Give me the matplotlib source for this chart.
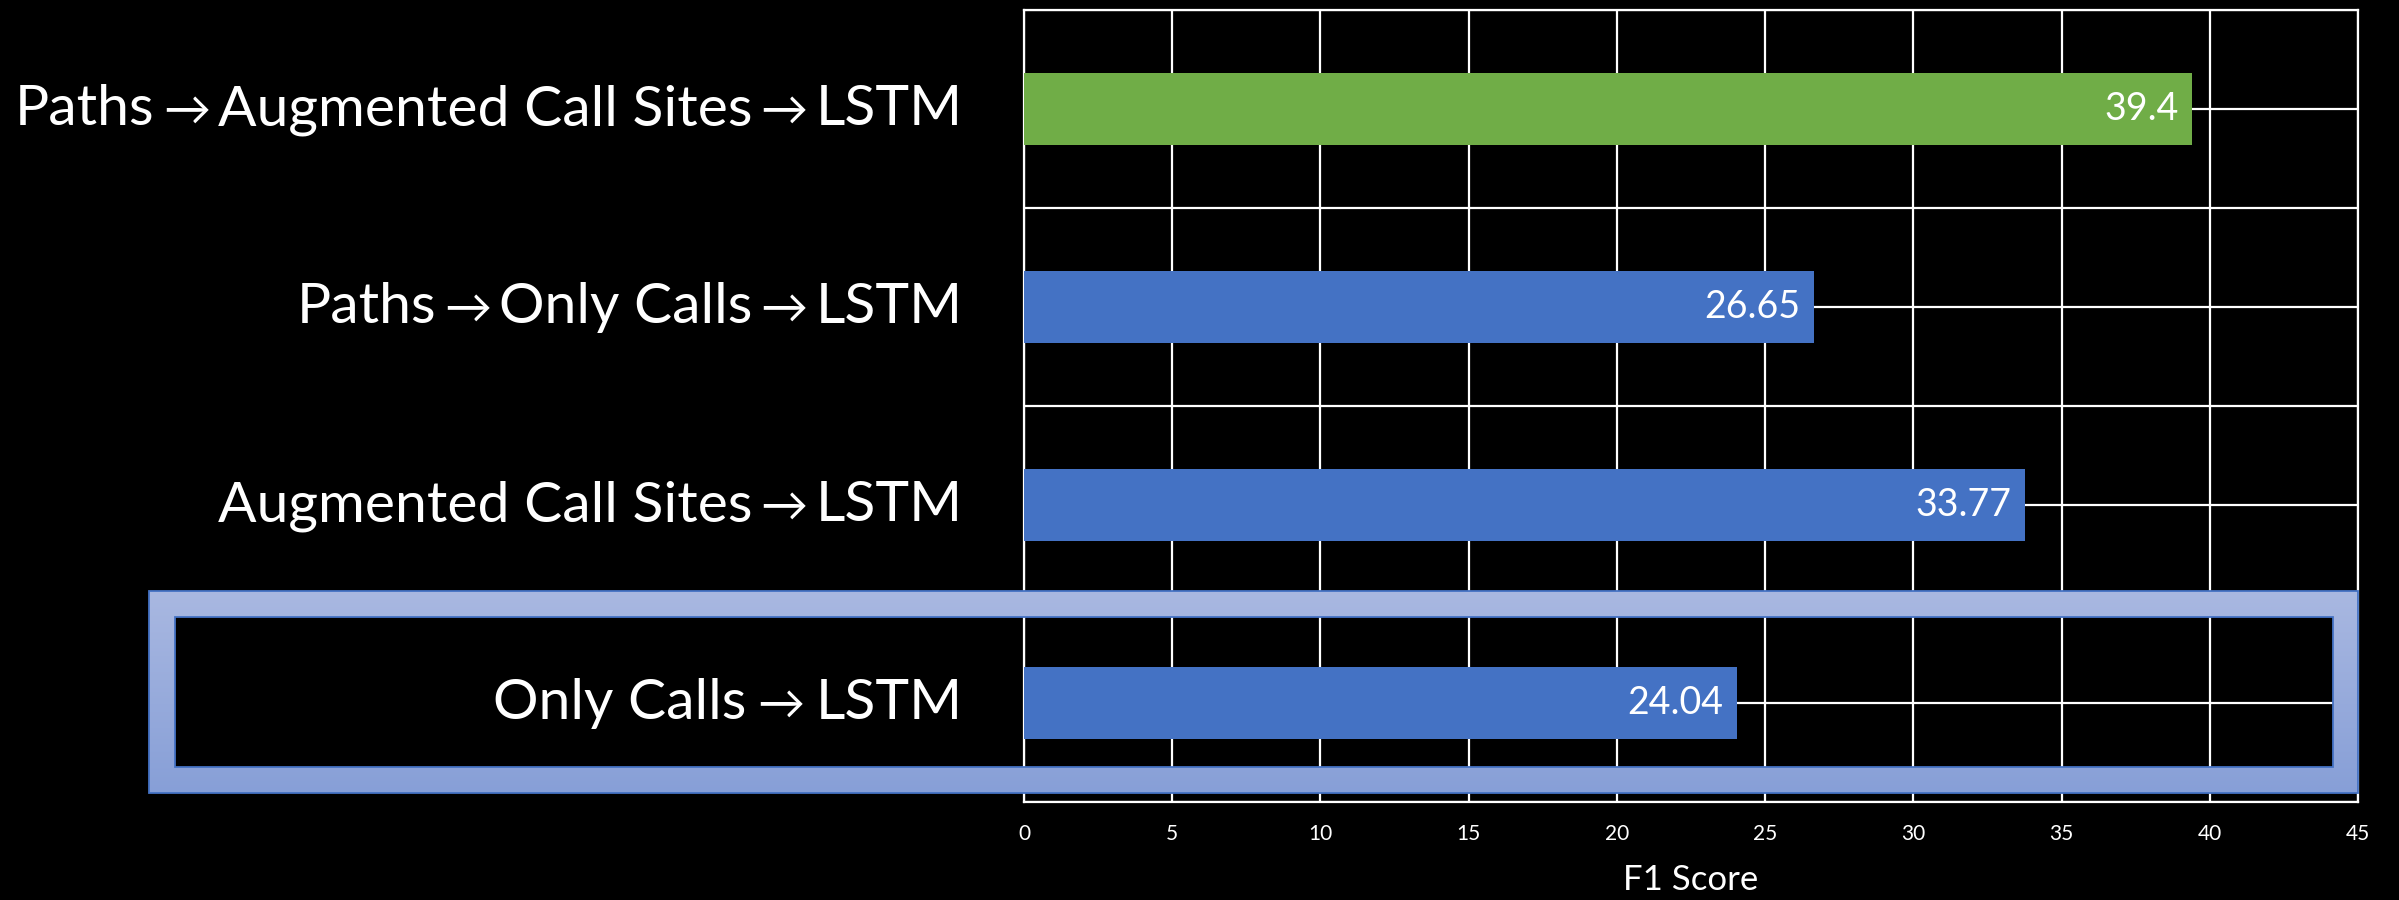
import matplotlib
matplotlib.use("Agg")
import matplotlib.pyplot as plt
from matplotlib.path import Path
from matplotlib.patches import PathPatch, Rectangle
from matplotlib.colors import LinearSegmentedColormap
from matplotlib.transforms import IdentityTransform
import numpy as np

labels = ["Paths→Augmented Call Sites→LSTM",
          "Paths→Only Calls→LSTM",
          "Augmented Call Sites→LSTM",
          "Only Calls → LSTM"]
scores = [39.4, 26.65, 33.77, 24.04]
bar_colors = ["#70AD47", "#4472C4", "#4472C4", "#4472C4"]
xticks = [0, 5, 10, 15, 20, 25, 30, 35, 40, 45]

FONT = ["Lato", "DejaVu Sans"]
plt.rcParams["font.family"] = FONT

W, H = 2399, 900
fig = plt.figure(figsize=(W / 100, H / 100), dpi=100, facecolor="black")
ax = fig.add_axes([1024 / W, 1 - 802 / H, (2358 - 1024) / W, (802 - 10) / H])
ax.set_facecolor("black")

y = np.arange(len(labels))
ax.barh(y, scores, height=0.36, color=bar_colors, zorder=3)
for yi, v in zip(y, scores):
    ax.text(v - 0.45, yi, f"{v:g}", color="white", fontsize=27,
            ha="right", va="center", zorder=4)

ax.set_xlim(0, 45)
ax.set_ylim(len(labels) - 0.5, -0.5)
ax.set_xticks(xticks)
ax.set_yticks([])
ax.set_yticks(np.arange(-0.5, len(labels), 0.5), minor=True)
ax.tick_params(axis="y", which="both", length=0)
ax.tick_params(axis="x", length=0, pad=16, labelsize=15, labelcolor="white")
ax.grid(True, axis="x", color="white", lw=1.6, zorder=1)
ax.grid(True, axis="y", which="minor", color="white", lw=1.6, zorder=1)
ax.set_axisbelow(True)
for s in ax.spines.values():
    s.set_color("white")
    s.set_linewidth(1.6)
ax.set_xlabel("F1 Score", color="white", fontsize=25, labelpad=14)

# category names, laid out right to left with a small arrow between parts
renderer = fig.canvas.get_renderer()
px = IdentityTransform()
for i, label in enumerate(labels):
    parts = [p.strip() for p in label.split("→")]
    gap = 11 if " → " in label else 8
    base = ax.transData.transform((0, i))[1] - 16
    x = 963
    for j, part in enumerate(reversed(parts)):
        if j > 0:
            a = fig.text(x, base, "→", fontsize=34, color="white",
                         ha="right", va="baseline", transform=px)
            x -= a.get_window_extent(renderer).width + gap
        t = fig.text(x, base, part, fontsize=41, color="white",
                     ha="right", va="baseline", transform=px)
        x -= t.get_window_extent(renderer).width + gap

# highlight frame around the last row
ov = fig.add_axes([0, 0, 1, 1], zorder=5)
ov.patch.set_alpha(0)
ov.axis("off")
outer = (149, 591, 2358, 793)
inner = (175, 617, 2333, 767)


def rect_path(x0, y0, x1, y1, rev=False):
    pts = [(x0, y0), (x1, y0), (x1, y1), (x0, y1)]
    if rev:
        pts = pts[::-1]
    return Path(pts + [pts[0]], [Path.MOVETO] + [Path.LINETO] * 3 + [Path.CLOSEPOLY])


ring = Path.make_compound_path(rect_path(*outer), rect_path(*inner, rev=True))
clip = PathPatch(ring, facecolor="none", edgecolor="none", transform=ov.transData)
ov.add_patch(clip)
cmap = LinearSegmentedColormap.from_list("frame", ["#A9B8E1", "#879FD7"])
grad = np.linspace(0, 1, 256).reshape(-1, 1)
im = ov.imshow(grad, cmap=cmap, aspect="auto", origin="upper",
               extent=(outer[0], outer[2], outer[3], outer[1]))
im.set_clip_path(clip)
for r in (outer, inner):
    ov.add_patch(Rectangle((r[0], r[1]), r[2] - r[0], r[3] - r[1],
                           fill=False, edgecolor="#4472C4", lw=1.3))
ov.set_xlim(0, W)
ov.set_ylim(H, 0)

fig.savefig("out.png", dpi=100, facecolor="black")
